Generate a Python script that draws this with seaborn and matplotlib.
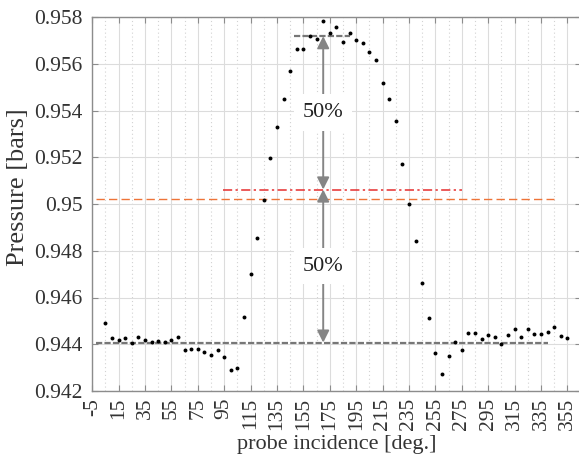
import numpy as np
import matplotlib
matplotlib.use("Agg")
import matplotlib.pyplot as plt
from matplotlib.ticker import FixedLocator
import seaborn as sns

# Probe incidence angle [deg.] and measured pressure [bars]
angle = list(range(5, 360, 5))
pressure = [
    0.94493, 0.94425, 0.94418, 0.94426, 0.94405, 0.94429, 0.94418, 0.94408,
    0.94415, 0.94411, 0.94419, 0.94429, 0.94375, 0.94379, 0.94379, 0.94368,
    0.94356, 0.94375, 0.94346, 0.94290, 0.94298, 0.94517, 0.94701, 0.94855,
    0.95019, 0.95196, 0.95329, 0.95449, 0.95567, 0.95663, 0.95662, 0.95718,
    0.95706, 0.95784, 0.95733, 0.95756, 0.95695, 0.95733, 0.95702, 0.95688,
    0.95649, 0.95617, 0.95517, 0.95450, 0.95356, 0.95171, 0.94998, 0.94841,
    0.94663, 0.94511, 0.94361, 0.94274, 0.94351, 0.94411, 0.94376, 0.94449,
    0.94449, 0.94423, 0.94440, 0.94429, 0.94402, 0.94439, 0.94465, 0.94430,
    0.94465, 0.94445, 0.94443, 0.94453, 0.94472, 0.94436, 0.94425,
]

# Reference levels: baseline, plateau, half level and mean
base_level = 0.94407
peak_level = 0.95718
half_level = 0.95062
mean_level = 0.95022
base_span = [-2, 340]
peak_span = [148, 190]
half_span = [94, 275]
mean_span = [-2, 345]
arrow_angle = 170
half_label = "50%"

xticks = list(range(-5, 356, 20))
xtick_labels = [str(v) for v in xticks]
yticks = [0.942, 0.944, 0.946, 0.948, 0.950, 0.952, 0.954, 0.956, 0.958]
ytick_labels = ["0.942", "0.944", "0.946", "0.948", "0.95", "0.952",
                "0.954", "0.956", "0.958"]

sns.set_theme(style="whitegrid")
plt.rcParams["font.family"] = ["Liberation Serif", "DejaVu Serif"]

text_col = "#333333"
spine_col = "#8c8c8c"

fig = plt.figure(figsize=(5.79, 4.59), dpi=100)
fig.patch.set_facecolor("white")
ax = fig.add_axes([92.3 / 579, 1 - 391 / 459, 488.2 / 579, 374 / 459])
ax.set_facecolor("white")

ax.set_xlim(-5, 365)
ax.set_ylim(0.942, 0.958)

# grid: solid major lines, dotted minor lines on x
ax.xaxis.set_major_locator(FixedLocator(xticks))
ax.xaxis.set_minor_locator(FixedLocator([v + 10 for v in xticks]))
ax.yaxis.set_major_locator(FixedLocator(yticks))
ax.grid(which="major", color="#dcdcdc", linewidth=0.8, linestyle="-")
ax.grid(which="minor", axis="x", color="#d2d2d2", linewidth=0.8,
        linestyle=(0, (1, 2.5)))
ax.set_axisbelow(True)

ax.set_xticklabels(xtick_labels, rotation=90)
ax.set_yticklabels(ytick_labels)
ax.tick_params(which="major", direction="in", length=4, width=0.8,
               color=spine_col, top=True, right=True, bottom=True, left=True,
               labelsize=15.5, labelcolor=text_col)
ax.tick_params(axis="x", pad=5)
ax.tick_params(axis="y", pad=7)
ax.tick_params(which="minor", length=0)
for s in ax.spines.values():
    s.set_visible(True)
    s.set_color(spine_col)
    s.set_linewidth(1.0)

# horizontal reference levels
ax.plot(base_span, [base_level] * 2, color="#777777", lw=1.6,
        dashes=(2.8, 1.0), zorder=2)
ax.plot(peak_span, [peak_level] * 2, color="#777777", lw=1.6,
        dashes=(2.8, 1.0), zorder=2)
ax.plot(mean_span, [mean_level] * 2, color="#ee7438", lw=1.0,
        dashes=(6, 3), zorder=2)
ax.plot(half_span, [half_level] * 2, color="#e62e2e", lw=1.1,
        dashes=(6, 2.2, 1.5, 2.2), zorder=2)

# measured pressure points
sns.scatterplot(x=angle, y=pressure, color="black", s=8, linewidth=0,
                ax=ax, zorder=4, legend=False)

# double arrows marking the two halves of the rise
arrow_kw = dict(arrowstyle="<|-|>", color="#858585", lw=1.4,
                mutation_scale=18, shrinkA=0, shrinkB=0)
ax.annotate("", xy=(arrow_angle, peak_level), xytext=(arrow_angle, half_level),
            arrowprops=arrow_kw, zorder=3)
ax.annotate("", xy=(arrow_angle, half_level), xytext=(arrow_angle, base_level),
            arrowprops=arrow_kw, zorder=3)
for lo, hi in [(half_level, peak_level), (base_level, half_level)]:
    ax.text(arrow_angle, (lo + hi) / 2, half_label, ha="center", va="center",
            fontsize=16, color="#222222", zorder=5,
            bbox=dict(boxstyle="square,pad=0.4", facecolor="white",
                      edgecolor="none"))

ax.set_xlabel("probe incidence [deg.]", fontsize=16, color=text_col)
ax.set_ylabel("Pressure [bars]", fontsize=19, color=text_col)
ax.xaxis.set_label_coords(0.5, -0.118)
ax.xaxis.label.set_va("top")
ax.yaxis.set_label_coords(-0.13, 0.545)

fig.savefig("out.png", dpi=100, facecolor="white")
